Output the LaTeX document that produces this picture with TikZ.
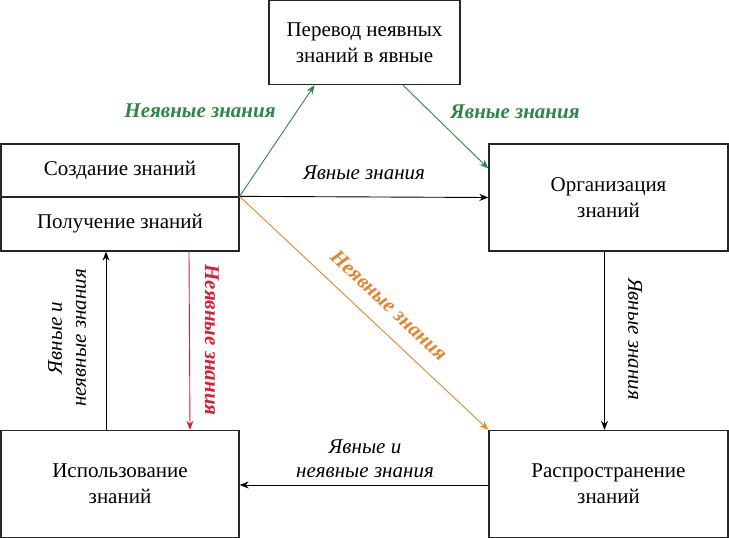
\documentclass[tikz,border=0pt]{standalone}
\usepackage{fontspec}
\setmainfont{Liberation Serif}
\newfontfamily\kserif{Liberation Serif}
\usetikzlibrary{calc,arrows.meta}
\definecolor{kgreen}{RGB}{46,135,70}
\definecolor{korange}{RGB}{228,132,48}
\definecolor{kred}{RGB}{216,30,50}
\tikzset{
  box/.style={draw=black!85, line width=1.3pt, inner sep=0pt, align=center, font=\kserif\fontsize{21}{26}\selectfont},
  conn/.style={line width=0.9pt, -{Stealth[length=9pt,width=7pt]}},
  lbl/.style={font=\kserif\fontsize{21}{24}\selectfont\itshape, align=center, inner sep=1pt},
  blbl/.style={font=\kserif\fontsize{21}{24}\selectfont\bfseries\itshape, align=center, inner sep=1pt}
}
\begin{document}
\begin{tikzpicture}[x=1pt,y=-1pt]
\useasboundingbox (0,0) rectangle (729,538);
\node[box, minimum width=191pt, minimum height=84pt] (top) at (364.5,42.5) {Перевод неявных\\знаний в явные};
\node[box, minimum width=238pt, minimum height=53pt] (create) at (120,170.5) {Создание знаний};
\node[box, minimum width=238pt, minimum height=54pt] (get) at (120,224) {Получение знаний};
\node[box, minimum width=239pt, minimum height=107pt] (org) at (608.5,197.5) {Организация\\знаний};
\node[box, minimum width=238pt, minimum height=107pt] (use) at (120,484) {Использование\\знаний};
\node[box, minimum width=239pt, minimum height=107pt] (dist) at (608.5,484) {Распространение\\знаний};

\draw[conn, kgreen] (get.north east) -- ($(top.south west)!0.24!(top.south east)$);
\draw[conn, kgreen] ($(top.south west)!0.70!(top.south east)$) -- ([yshift=29pt]org.west);
\draw[conn, black] (get.north east) -- (org.west);
\draw[conn, korange] (get.north east) -- (dist.north west);
\draw[conn, black] ([xshift=-4pt]org.south) -- ([xshift=-4pt]dist.north);
\draw[conn, black] ([yshift=-1pt]dist.west) -- ([yshift=-1pt]use.east);
\draw[conn, black] ([xshift=-14pt]use.north) -- ([xshift=-14pt]get.south);
\draw[conn, kred] ([xshift=69pt]get.south) -- ([xshift=70pt]use.north);

\node[blbl, text=kgreen] (l1) at (200,111) {Неявные знания};
\node[blbl, text=kgreen] (l2) at (515,112) {Явные знания};
\node[lbl] (l3) at (364,173) {Явные знания};
\node[blbl, text=korange, rotate=-43] (l4) at (389,305) {Неявные знания};
\node[lbl, rotate=-90] (l5) at (635,339) {Явные знания};
\node[blbl, text=kred, rotate=-90] (l6) at (212,340) {Неявные знания};
\node[lbl, rotate=90] (l7) at (67,338) {Явные и\\неявные знания};
\node[lbl] (l8) at (365,459) {Явные и\\неявные знания};
\end{tikzpicture}
\end{document}
